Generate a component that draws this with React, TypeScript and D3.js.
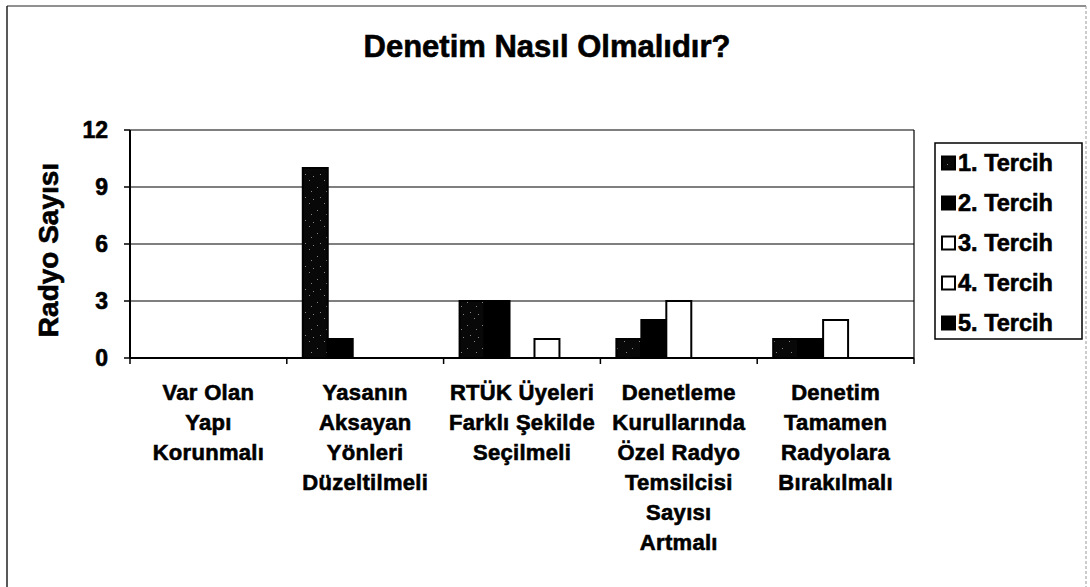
import React from "react";
import * as d3 from "d3";

const categories: string[][] = [
  ["Var Olan", "Yapı", "Korunmalı"],
  ["Yasanın", "Aksayan", "Yönleri", "Düzeltilmeli"],
  ["RTÜK Üyeleri", "Farklı Şekilde", "Seçilmeli"],
  ["Denetleme", "Kurullarında", "Özel Radyo", "Temsilcisi", "Sayısı", "Artmalı"],
  ["Denetim", "Tamamen", "Radyolara", "Bırakılmalı"],
];
const seriesNames = ["1. Tercih", "2. Tercih", "3. Tercih", "4. Tercih", "5. Tercih"];
const tercih1 = [0, 10, 3, 1, 1];
const tercih2 = [0, 1, 3, 2, 1];
const tercih3 = [0, 0, 0, 3, 2];
const tercih4 = [0, 0, 1, 0, 0];
const tercih5 = [0, 0, 0, 0, 0];
const seriesValues = [tercih1, tercih2, tercih3, tercih4, tercih5];
const yTicks = [0, 3, 6, 9, 12];
const title = "Denetim Nasıl Olmalıdır?";
const yTitle = "Radyo Sayısı";

const fills = ["url(#speckle)", "#000", "#fff", "#fff", "#000"];
const FONT = "Arial, 'Liberation Sans', Helvetica, sans-serif";

export default function App() {
  const W = 1090, H = 587;
  const left = 130, right = 914, top = 130, bottom = 358;
  const catIdx = categories.map((_, i) => String(i));
  const x0 = d3.scaleBand<string>().domain(catIdx).range([left, right]).padding(0);
  const x1 = d3.scaleBand<string>().domain(seriesNames).range([0, x0.bandwidth()]).paddingInner(0).paddingOuter(0.64);
  const y = d3.scaleLinear().domain([0, 12]).range([bottom, top]);

  const speckles: [number, number][] = [
    [2, 3], [11, 7], [5, 13], [9, 19], [13, 15],
  ];
  const txt = { stroke: "#000", strokeWidth: 0.6 };

  return (
    <svg width={W} height={H} style={{ position: "absolute", left: 0, top: 0, background: "#fff" }} fontFamily={FONT}>
      <defs>
        <pattern id="speckle" width={15} height={23} patternUnits="userSpaceOnUse">
          <rect width={15} height={23} fill="#080808" />
          {speckles.map(([a, b], i) => (
            <rect key={i} x={a} y={b} width={1} height={1} fill="#888" />
          ))}
        </pattern>
      </defs>
      {/* outer frame */}
      <line x1={7} y1={6} x2={1086} y2={6} stroke="#222" strokeWidth={1.2} />
      <line x1={7} y1={6} x2={7} y2={587} stroke="#222" strokeWidth={1.5} />
      <line x1={1086} y1={6} x2={1086} y2={587} stroke="#999" strokeWidth={1} strokeDasharray="3,2" />

      {/* title */}
      <text x={547} y={57} textAnchor="middle" fontSize={31} fontWeight="bold" fill="#000" {...txt}>{title}</text>

      {/* gridlines */}
      {yTicks.map((t) => (
        <line key={t} x1={left} x2={right} y1={y(t)} y2={y(t)} stroke="#000" strokeWidth={1.2} />
      ))}
      {/* plot right border */}
      <line x1={right} x2={right} y1={top} y2={bottom} stroke="#000" strokeWidth={1.2} />

      {/* bars */}
      {seriesValues.map((vals, s) =>
        vals.map((v, c) =>
          v > 0 ? (
            <rect
              key={`${s}-${c}`}
              x={(x0(String(c)) as number) + (x1(seriesNames[s]) as number)}
              y={y(v)}
              width={x1.bandwidth()}
              height={y(0) - y(v)}
              fill={fills[s]}
              stroke="#000"
              strokeWidth={2}
            />
          ) : null
        )
      )}

      {/* axes */}
      <line x1={left} x2={left} y1={top} y2={bottom} stroke="#000" strokeWidth={2} />
      <line x1={left} x2={right} y1={bottom} y2={bottom} stroke="#000" strokeWidth={2} />
      {yTicks.map((t) => (
        <g key={t}>
          <line x1={left - 6} x2={left} y1={y(t)} y2={y(t)} stroke="#000" strokeWidth={1.5} />
          <text x={108} y={y(t)} dy="0.36em" textAnchor="end" fontSize={23} fontWeight="bold" {...txt}>{t}</text>
        </g>
      ))}
      {d3.range(categories.length + 1).map((i) => {
        const xx = left + i * x0.step();
        return <line key={i} x1={xx} x2={xx} y1={bottom} y2={bottom + 6} stroke="#000" strokeWidth={1.5} />;
      })}

      {/* category labels */}
      {categories.map((lines, c) => (
        <text key={c} x={(x0(String(c)) as number) + x0.bandwidth() / 2} textAnchor="middle" fontSize={22} fontWeight="bold" letterSpacing={0.3} {...txt}>
          {lines.map((ln, k) => (
            <tspan key={k} x={(x0(String(c)) as number) + x0.bandwidth() / 2} y={400 + k * 30}>{ln}</tspan>
          ))}
        </text>
      ))}

      {/* y title */}
      <text transform={`translate(58,250) rotate(-90)`} textAnchor="middle" fontSize={28} fontWeight="bold" {...txt}>{yTitle}</text>

      {/* legend */}
      <rect x={935} y={143} width={147} height={196} fill="#fff" stroke="#000" strokeWidth={1.5} />
      {seriesNames.map((n, s) => {
        const cy = 163 + s * 40;
        return (
          <g key={n}>
            <rect x={942} y={cy - 6.5} width={13} height={13} fill={fills[s]} stroke="#000" strokeWidth={2} />
            <text x={958} y={cy + 8} fontSize={23.5} fontWeight="bold" {...txt}>{n}</text>
          </g>
        );
      })}
    </svg>
  );
}
